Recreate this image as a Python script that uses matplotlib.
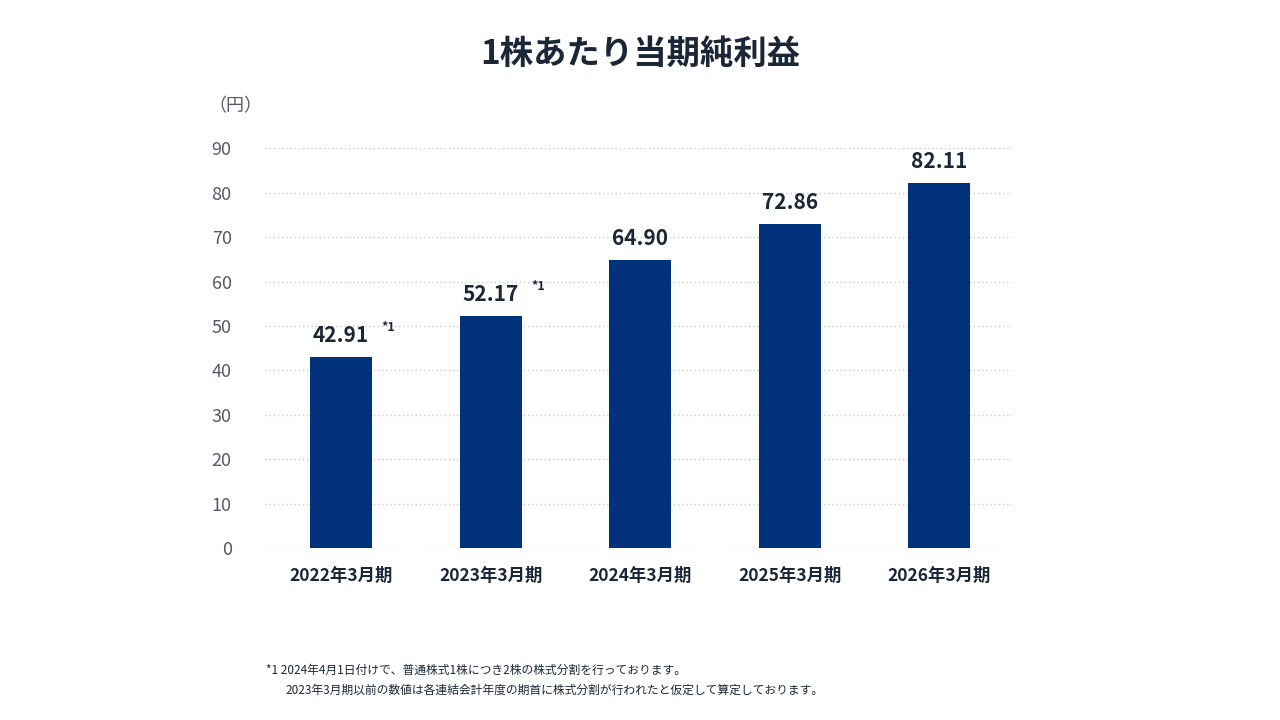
import matplotlib
matplotlib.use('Agg')
import matplotlib.pyplot as plt

plt.rcParams['font.family'] = ['Noto Sans CJK JP', 'DejaVu Sans']

periods = ['2022年3月期', '2023年3月期', '2024年3月期', '2025年3月期', '2026年3月期']
eps = [42.91, 52.17, 64.90, 72.86, 82.11]
notes = ['*1', '*1', '', '', '']
yticks = list(range(0, 91, 10))

bar_color = '#00317a'
text_color = '#1b2636'

fig = plt.figure(figsize=(12.8, 7.2), dpi=100, facecolor='white')
ax = fig.add_axes([0.207, 0.239, 0.584, 0.555])

x = range(len(periods))
ax.bar(x, eps, width=0.415, color=bar_color, zorder=2)
for i, (v, n) in enumerate(zip(eps, notes)):
    ax.text(i, v + 2.5, f'{v:.2f}', ha='center', va='bottom',
            fontsize=15, fontweight='bold', color=text_color)
    if n:
        ax.text(i + 0.27, v + 5.2, n, ha='left', va='bottom',
                fontsize=9, fontweight='bold', color=text_color)

ax.set_xlim(-0.51, 4.49)
ax.set_ylim(0, 90)
ax.set_yticks(yticks)
ax.set_xticks(list(x))
ax.set_xticklabels(periods, fontsize=12.5, fontweight='bold', color=text_color)
ax.tick_params(axis='y', labelsize=13, colors='#555a66', length=0, pad=24)
ax.tick_params(axis='x', length=0, pad=14)
ax.grid(axis='y', color='#cccccc', linestyle=(0, (1, 2)), linewidth=1, zorder=0)
for s in ax.spines.values():
    s.set_visible(False)

fig.text(0.5, 0.924, '1株あたり当期純利益', ha='center', va='center',
         fontsize=24, fontweight='bold', color=text_color)
fig.text(0.163, 0.852, '（円）', ha='left', va='center', fontsize=13, color='#555a66')
fig.text(0.208, 0.069, '*1 2024年4月1日付けで、普通株式1株につき2株の株式分割を行っております。',
         ha='left', va='center', fontsize=8.5, color=text_color)
fig.text(0.223, 0.041, '2023年3月期以前の数値は各連結会計年度の期首に株式分割が行われたと仮定して算定しております。',
         ha='left', va='center', fontsize=8.5, color=text_color)

fig.savefig('out.png', dpi=100, facecolor='white')
